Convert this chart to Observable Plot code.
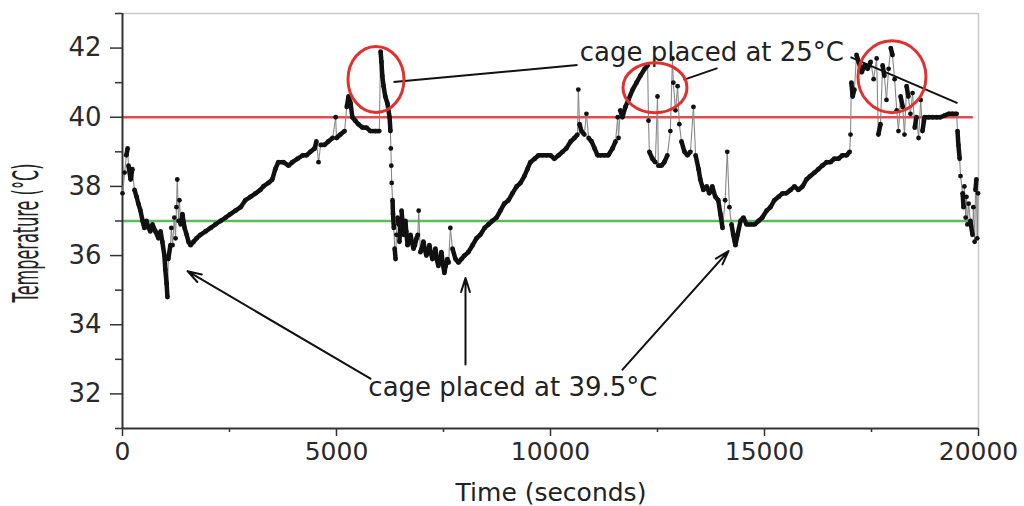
<!DOCTYPE html>
<html><head><meta charset="utf-8">
<script src="https://cdn.jsdelivr.net/npm/d3@7"></script>
<script src="https://cdn.jsdelivr.net/npm/@observablehq/plot@0.6"></script>
<style>html,body{margin:0;padding:0;background:#fff;}</style>
</head><body><div id="chart"></div>
<script>
// Time (seconds) of each sample
const time = [
  0,50,90,120,140,190,230,280,330,370,
  420,470,510,560,610,650,700,770,840,890,
  930,980,1000,1030,1050,1070,1120,1140,1170,1210,
  1240,1260,1280,1310,1330,1360,1400,1450,1500,1540,
  1590,1660,1730,1820,1940,2060,2170,2290,2410,2520,
  2640,2760,2870,2990,3110,3220,3290,3410,3500,3570,
  3640,3760,3880,3970,4090,4210,4300,4390,4490,4530,
  4580,4630,4720,4810,4910,4980,5000,5090,5190,5240,
  5280,5330,5370,5440,5510,5610,5700,5790,5910,6000,
  6030,6050,6070,6100,6140,6190,6240,6260,6270,6280,
  6290,6310,6320,6340,6360,
  6380,6400,6430,6450,6470,6490,6520,6540,6570,6590,
  6610,6630,6660,6690,6730,6760,6800,6830,6870,6900,
  6920,6960,6990,7030,7060,7100,7130,7170,7200,7240,
  7270,7310,7340,7380,7410,7450,7480,7520,7550,7590,
  7620,7660,7710,7780,7850,
  7920,7990,8080,8180,8270,8360,8460,8550,8640,8740,
  8830,8920,9020,9110,9210,9300,9390,9460,9530,9630,
  9720,9810,9910,10000,10090,10190,10280,10370,10470,10560,
  10630,10650,10680,10720,10790,10840,10890,10960,11030,11100,
  11170,11260,11350,11450,11520,11570,11590,11630,11680,11750,
  11820,11920,12010,12100,12200,12270,12290,12310,12380,12450,
  12500,12520,12590,12660,12730,12800,12850,12870,12920,12970,
  13010,13060,13130,13200,13270,13340,13390,13460,13500,13570,
  13650,13710,13780,13850,13920,13970,14020,14080,14130,14180,
  14230,14270,14320,14370,14440,14510,14580,14670,14770,14860,
  14950,15050,15140,15230,15330,15420,15510,15610,15700,15790,
  15890,15980,16070,16170,16260,16350,16450,16540,16630,16730,
  16820,16920,16990,17010,17030,17060,17100,17150,17200,17270,
  17340,17410,17480,17550,17620,17660,17710,17760,17800,17850,
  17900,17950,17990,18040,18090,18130,18180,18230,18270,18320,
  18360,18410,18460,18510,18550,18600,18650,18690,18740,18830,
  18930,19020,19110,19210,19300,19390,19490,19510,19530,19560,
  19580,19630,19650,19670,19700,19720,19740,19770,19810,19860,
  19880,19910,19930,19950,19970,19990
];
// Temperature (°C) of each sample
const temp = [
  37.8,38.4,38.9,39.1,38.6,38.2,38.5,37.9,37.7,37.5,
  37.3,37.0,36.8,37.0,36.8,36.7,36.9,36.7,36.5,36.7,
  36.4,36.0,35.6,35.2,34.8,35.9,36.3,36.8,36.3,37.1,
  36.5,37.4,38.2,37.0,37.6,36.9,37.2,36.8,36.6,36.4,
  36.3,36.4,36.5,36.6,36.7,36.8,36.9,37.0,37.1,37.2,
  37.3,37.4,37.6,37.7,37.8,37.9,38.0,38.1,38.2,38.5,
  38.7,38.7,38.6,38.7,38.8,38.9,38.9,39.0,39.1,39.3,
  38.7,39.2,39.2,39.3,39.4,40.0,39.4,39.5,39.6,40.3,
  40.6,40.4,40.0,39.9,39.8,39.7,39.7,39.6,39.6,39.6,
  41.9,41.6,41.2,40.9,40.6,40.4,40.0,39.6,39.1,38.6,
  38.1,37.6,37.2,36.8,36.2,
  35.9,36.6,37.1,36.9,36.4,36.8,37.3,37.0,36.6,36.9,
  37.0,36.7,36.3,36.4,36.6,36.4,36.2,36.3,36.5,36.6,
  37.3,36.1,36.2,36.4,36.2,36.0,36.1,36.3,36.1,35.9,
  36.0,36.2,35.9,35.7,35.9,36.1,35.8,35.5,35.7,35.9,
  35.8,36.8,36.2,35.9,35.8,
  35.9,36.0,36.1,36.3,36.5,36.6,36.8,36.9,37.0,37.1,
  37.3,37.5,37.6,37.8,38.0,38.1,38.3,38.5,38.7,38.8,
  38.9,38.9,38.9,38.9,38.8,38.9,39.0,39.1,39.3,39.4,
  39.5,40.8,39.8,39.6,39.5,40.1,39.4,39.3,39.1,38.9,
  38.9,38.9,38.9,39.1,39.3,40.0,39.4,40.2,40.0,40.3,
  40.5,40.8,41.0,41.2,41.4,41.5,39.9,39.0,38.8,38.7,
  40.6,38.6,38.6,38.7,38.9,39.6,41.7,41.0,40.2,40.9,
  39.8,39.3,39.0,38.9,39.0,40.3,38.9,38.5,38.2,37.9,
  38.0,37.8,38.0,37.7,37.6,37.2,36.8,37.6,39.0,37.4,
  36.9,36.6,36.3,36.6,37.0,37.1,36.9,36.9,36.9,37.0,
  37.1,37.3,37.4,37.6,37.7,37.8,37.8,37.9,38.0,37.9,
  38.0,38.2,38.3,38.4,38.5,38.6,38.7,38.7,38.8,38.8,
  38.9,38.9,39.0,39.5,41.0,40.6,40.8,41.8,41.6,41.3,
  41.5,41.4,41.6,41.1,41.7,39.5,39.8,41.5,41.2,40.5,
  41.4,42.0,41.8,41.1,40.2,39.6,40.6,40.3,39.5,40.9,
  40.6,40.1,40.7,39.7,40.0,39.4,40.5,39.6,40.0,40.0,
  40.0,40.0,40.0,40.05,40.1,40.1,40.1,39.6,39.2,38.8,
  38.3,37.8,37.4,38.0,37.1,37.7,36.9,37.5,37.0,36.6,
  37.4,36.4,37.9,38.2,36.5,37.8
];

const xTicks = [0, 5000, 10000, 15000, 20000];
const xMinorTicks = [2500, 7500, 12500, 17500];
const yTicks = [32, 34, 36, 38, 40, 42];
const yMinorTicks = [31, 33, 35, 37, 39, 41, 43];
const upperLimit = [40];
const lowerLimit = [37];

// annotations (data units)
const noteText = ["cage placed at 25°C", "cage placed at 39.5°C"];
const noteTime = [13770, 9122];
const noteTemp = [41.875, 32.17];
const leaderT1 = [10631, 13902, 17009];
const leaderY1 = [41.51, 41.42, 41.74];
const leaderT2 = [6332, 13107, 19509];
const leaderY2 = [41.02, 41.08, 40.41];
const arrowT1 = [5794, 8014, 11682];
const arrowY1 = [32.44, 32.85, 32.70];
const arrowT2 = [1519, 8014, 14159];
const arrowY2 = [35.55, 35.35, 36.13];
const ringTime = [5934, 12453, 17990];
const ringTemp = [41.08, 40.84, 41.16];

const rows = time.map((t, i) => ({t, T: temp[i]}));
const segs = d3.pairs(rows).map(([a, b]) => ({t1: a.t, T1: a.T, t2: b.t, T2: b.T, jump: Math.abs(b.T - a.T) >= 0.45}));
const notes = noteText.map((s, i) => ({s, t: noteTime[i], T: noteTemp[i]}));
const leaders = leaderT1.map((d, i) => ({x1: d, y1: leaderY1[i], x2: leaderT2[i], y2: leaderY2[i]}));
const arrows = arrowT1.map((d, i) => ({x1: d, y1: arrowY1[i], x2: arrowT2[i], y2: arrowY2[i]}));

const plot = Plot.plot({
  width: 1024, height: 506,
  marginLeft: 122, marginRight: 46, marginTop: 13, marginBottom: 78,
  style: {fontFamily: "DejaVu Sans", fontSize: "25px", color: "#2a2a2a", background: "#fff"},
  x: {domain: [0, 20000]},
  y: {domain: [31, 43]},
  marks: [
    Plot.ruleY([43], {stroke: "#c8c8c8", strokeWidth: 1.5}),
    Plot.ruleX([20000], {stroke: "#c8c8c8", strokeWidth: 1.5}),
    Plot.ruleY(upperLimit, {x1: 0, x2: 19880, stroke: "#e8494a", strokeWidth: 2.5}),
    Plot.ruleY(lowerLimit, {x1: 0, x2: 19880, stroke: "#5cbb5c", strokeWidth: 2.5}),
    Plot.axisY(yTicks, {tickSize: 12, tickPadding: 9, fontSize: 26, label: null, stroke: "#333", strokeWidth: 1.5}),
    Plot.axisY(yMinorTicks, {tickSize: 7, tickFormat: () => "", label: null, stroke: "#333", strokeWidth: 1.5}),
    Plot.axisX(xTicks, {tickSize: 8, tickPadding: 6, fontSize: 25, tickFormat: d => String(d), label: null, stroke: "#333", strokeWidth: 1.5}),
    Plot.axisX(xMinorTicks, {tickSize: 4, tickFormat: () => "", label: null, stroke: "#333", strokeWidth: 1.5}),
    Plot.ruleX([0], {stroke: "#333", strokeWidth: 2}),
    Plot.ruleY([31], {stroke: "#333", strokeWidth: 2}),
    Plot.link(segs.filter(d => d.jump), {x1: "t1", y1: "T1", x2: "t2", y2: "T2", stroke: "#888", strokeWidth: 1.1}),
    Plot.link(segs.filter(d => !d.jump), {x1: "t1", y1: "T1", x2: "t2", y2: "T2", stroke: "#111", strokeWidth: 4.5}),
    Plot.dot(rows, {x: "t", y: "T", r: 2.4, fill: "#111", stroke: null}),
    Plot.link(leaders, {x1: "x1", y1: "y1", x2: "x2", y2: "y2", stroke: "#111", strokeWidth: 2}),
    Plot.arrow(arrows, {x1: "x1", y1: "y1", x2: "x2", y2: "y2", stroke: "#111", strokeWidth: 2, headLength: 11, headAngle: 35}),
    Plot.text(notes, {x: "t", y: "T", text: "s", fontSize: 26, fill: "#222", textAnchor: "middle", lineAnchor: "middle"})
  ]
});

const xs = plot.scale("x"), ys = plot.scale("y");
const sx = xs.apply ? v => xs.apply(v) : d3.scaleLinear(xs.domain, xs.range);
const sy = ys.apply ? v => ys.apply(v) : d3.scaleLinear(ys.domain, ys.range);
const ringRadii = [[28, 33], [32, 25], [34, 36]];
const svg = d3.select(plot);
ringTime.forEach((t, i) => {
  svg.append("ellipse")
    .attr("cx", sx(t)).attr("cy", sy(ringTemp[i]))
    .attr("rx", ringRadii[i][0]).attr("ry", ringRadii[i][1])
    .attr("fill", "none").attr("stroke", "#e2302f").attr("stroke-width", 3);
});
svg.append("text")
  .attr("x", 551).attr("y", 492)
  .attr("text-anchor", "middle").attr("dominant-baseline", "central")
  .attr("font-family", "DejaVu Sans").attr("font-size", 25).attr("fill", "#222")
  .text("Time (seconds)");
svg.append("text")
  .attr("transform", "translate(26,233) rotate(-90) scale(0.46,1)")
  .attr("text-anchor", "middle").attr("dominant-baseline", "central")
  .attr("font-family", "DejaVu Sans").attr("font-size", 35).attr("fill", "#222")
  .text("Temperature (°C)");

document.getElementById("chart").appendChild(plot);
</script>
</body></html>
